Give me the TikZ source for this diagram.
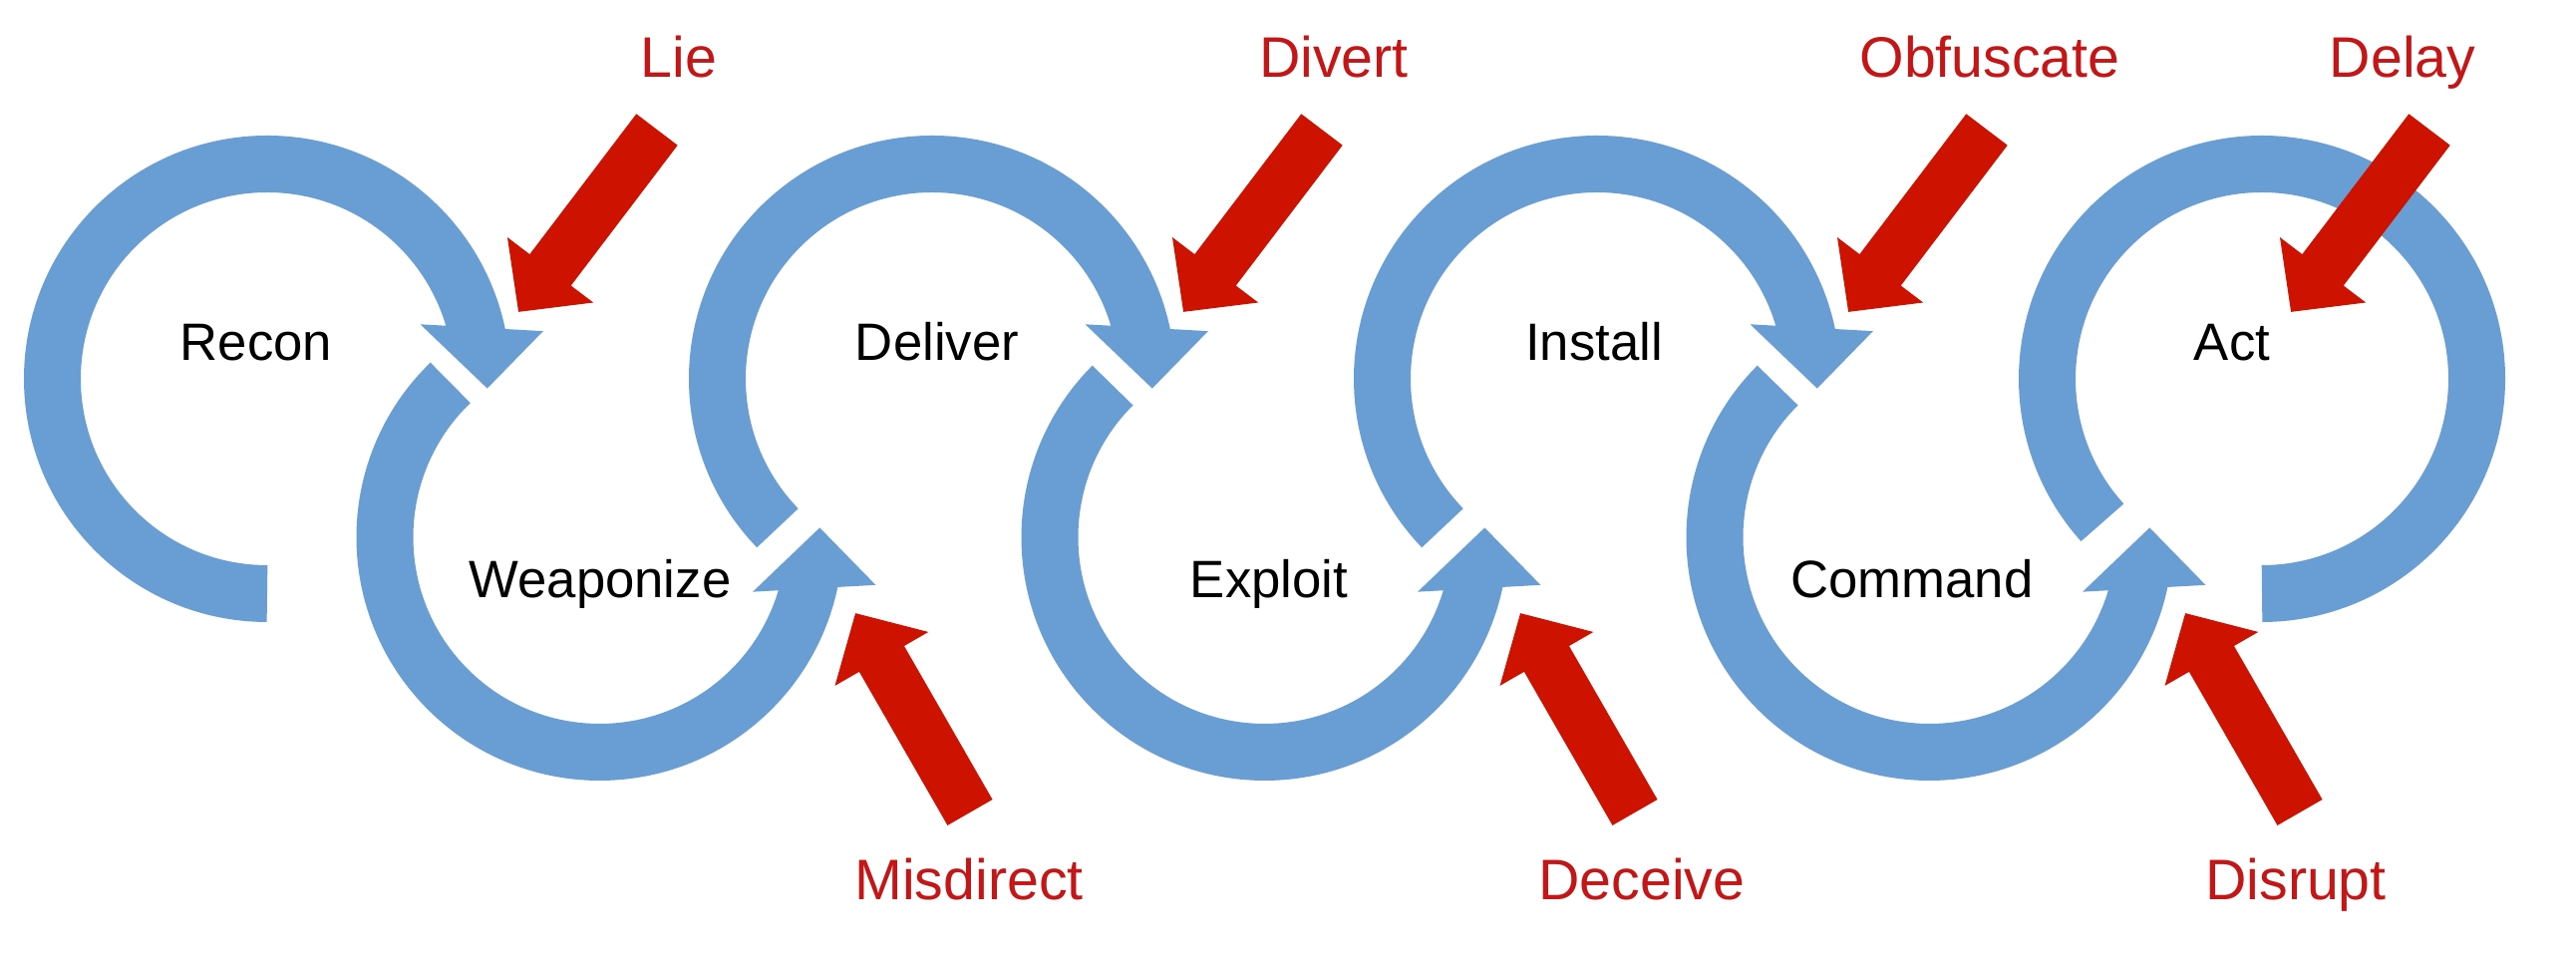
\documentclass[tikz,border=0pt]{standalone}
\usepackage{fontspec}
\setmainfont{Liberation Sans}
\usetikzlibrary{arrows.meta}
\definecolor{ringblue}{RGB}{104,158,211}
\definecolor{movered}{RGB}{205,18,0}
\definecolor{labelred}{RGB}{196,22,22}

\begin{document}
\begin{tikzpicture}[scale=1,
  ring/.style={draw=ringblue,line width=0.57cm},
  ring head/.style={fill=ringblue},
  red arrow/.style={color=movered,line width=0.52cm,-{Triangle[width=1.05cm,length=0.53cm]}},
  main node/.style={font=\fontsize{15}{18}\selectfont,anchor=base},
  move node/.style={font=\fontsize{16.3}{19}\selectfont,text=labelred,anchor=base}]

  \path[use as bounding box,fill=white] (0,0) rectangle (25.84,9.65);

  % top row
  \draw[ring,shift={(2.68,5.85)}] (270:2.155) arc[start angle=270,end angle=11.5,radius=2.155];
  \fill[ring head,shift={(2.68,5.85)}] (19.6:1.63) -- (9.8:2.81) -- (-2.5:2.21) -- cycle;
  \draw[ring,shift={(9.35,5.85)}] (224:2.155) arc[start angle=224,end angle=11.5,radius=2.155];
  \fill[ring head,shift={(9.35,5.85)}] (19.6:1.63) -- (9.8:2.81) -- (-2.5:2.21) -- cycle;
  \draw[ring,shift={(16.02,5.85)}] (224:2.155) arc[start angle=224,end angle=11.5,radius=2.155];
  \fill[ring head,shift={(16.02,5.85)}] (19.6:1.63) -- (9.8:2.81) -- (-2.5:2.21) -- cycle;
  \draw[ring,shift={(22.69,5.85)}] (222:2.155) arc[start angle=222,end angle=-90,radius=2.155];

  % bottom row
  \draw[ring,shift={(6.015,4.26)}] (134:2.155) arc[start angle=134,end angle=348.5,radius=2.155];
  \fill[ring head,shift={(6.015,4.26)}] (-19.6:1.63) -- (-9.8:2.81) -- (2.5:2.21) -- cycle;
  \draw[ring,shift={(12.685,4.26)}] (135:2.155) arc[start angle=135,end angle=348.5,radius=2.155];
  \fill[ring head,shift={(12.685,4.26)}] (-19.6:1.63) -- (-9.8:2.81) -- (2.5:2.21) -- cycle;
  \draw[ring,shift={(19.355,4.26)}] (135:2.155) arc[start angle=135,end angle=348.5,radius=2.155];
  \fill[ring head,shift={(19.355,4.26)}] (-19.6:1.63) -- (-9.8:2.81) -- (2.5:2.21) -- cycle;

  \node[main node] (1) at (2.57,6.03) {Recon};
  \node[main node] (2) at (6.02,3.65) {Weaponize};
  \node[main node] (3) at (9.40,6.03) {Deliver};
  \node[main node] (4) at (12.73,3.65) {Exploit};
  \node[main node] (5) at (15.99,6.03) {Install};
  \node[main node] (6) at (19.18,3.65) {Command};
  \node[main node] (7) at (22.39,6.03) {Act};

  \node[move node] (11) at (6.81,8.87) {Lie};
  \node[move node] (12) at (13.38,8.87) {Divert};
  \node[move node] (13) at (19.96,8.87) {Obfuscate};
  \node[move node] (14) at (24.10,8.87) {Delay};
  \node[move node] (15) at (9.72,0.62) {Misdirect};
  \node[move node] (16) at (16.47,0.62) {Deceive};
  \node[move node] (17) at (23.03,0.62) {Disrupt};

  \coordinate (101) at (6.59,8.35);  \coordinate (102) at (5.20,6.52);
  \coordinate (201) at (13.26,8.35); \coordinate (202) at (11.87,6.52);
  \coordinate (301) at (19.93,8.35); \coordinate (302) at (18.54,6.52);
  \coordinate (401) at (24.37,8.35); \coordinate (402) at (22.98,6.52);
  \coordinate (501) at (9.73,1.50);  \coordinate (502) at (8.58,3.50);
  \coordinate (601) at (16.40,1.50); \coordinate (602) at (15.25,3.50);
  \coordinate (701) at (23.07,1.50); \coordinate (702) at (21.92,3.50);

  \draw[red arrow] (101) -- (102);
  \draw[red arrow] (201) -- (202);
  \draw[red arrow] (301) -- (302);
  \draw[red arrow] (401) -- (402);
  \draw[red arrow] (501) -- (502);
  \draw[red arrow] (601) -- (602);
  \draw[red arrow] (701) -- (702);
\end{tikzpicture}
\end{document}
